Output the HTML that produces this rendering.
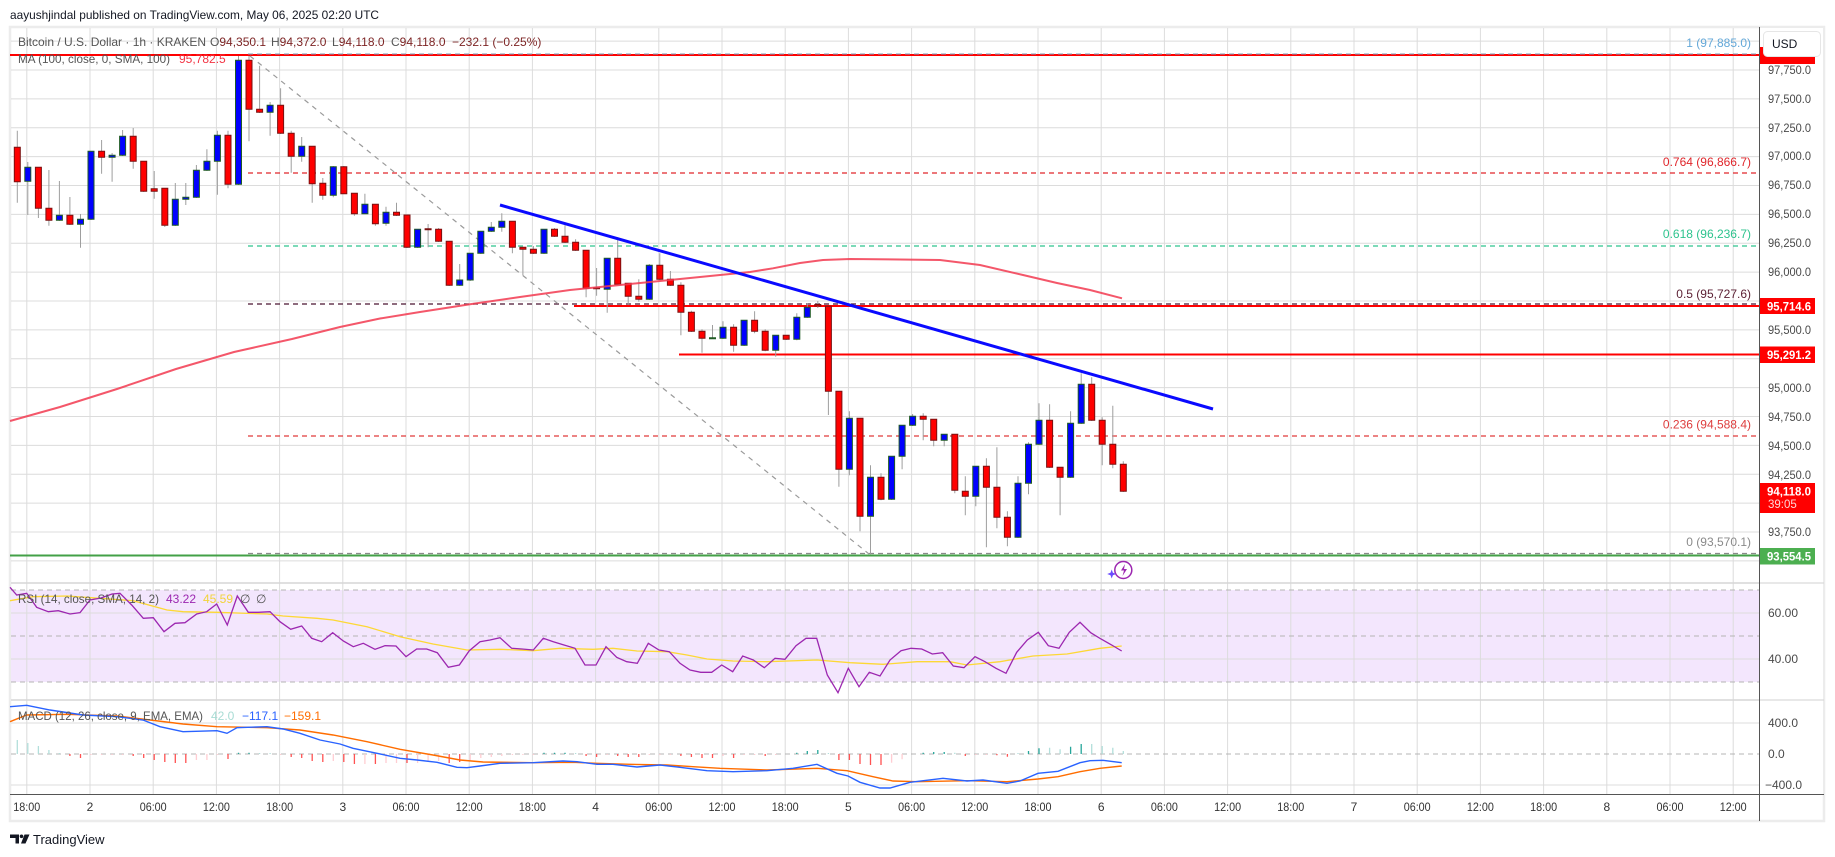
<!DOCTYPE html>
<html><head><meta charset="utf-8"><style>
html,body{margin:0;padding:0;background:#fff;}
svg{display:block;font-family:"Liberation Sans",sans-serif;}
</style></head><body>
<svg width="1835" height="857" viewBox="0 0 1835 857" xmlns="http://www.w3.org/2000/svg">
<rect width="1835" height="857" fill="#fff"/>
<text x="10" y="19" font-size="12" fill="#131722" textLength="369" lengthAdjust="spacingAndGlyphs">aayushjindal published on TradingView.com, May 06, 2025 02:20 UTC</text>
<rect x="10" y="27" width="1814" height="794" fill="#fff" stroke="#ececec" stroke-width="2.5"/>
<!-- RSI band -->
<rect x="11" y="590" width="1748" height="92" fill="#f3e6fd"/>
<!-- grid -->
<g stroke="#dcdcdc" stroke-width="1">
<path d="M11 41.1H1759M11 70H1759M11 98.9H1759M11 127.7H1759M11 156.6H1759M11 185.5H1759M11 214.4H1759M11 243.3H1759M11 272.1H1759M11 301H1759M11 329.9H1759M11 358.8H1759M11 387.6H1759M11 416.5H1759M11 445.4H1759M11 474.3H1759M11 503.1H1759M11 532H1759M11 560.9H1759"/>
<path d="M11 613H1759M11 659H1759M11 723H1759M11 785H1759"/>
<path d="M26.8 28V794M90 28V794M153.2 28V794M216.4 28V794M279.6 28V794M342.8 28V794M406 28V794M469.2 28V794M532.4 28V794M595.6 28V794M658.8 28V794M722 28V794M785.2 28V794M848.4 28V794M911.6 28V794M974.8 28V794M1038 28V794M1101.2 28V794M1164.4 28V794M1227.6 28V794M1290.8 28V794M1354 28V794M1417.2 28V794M1480.4 28V794M1543.6 28V794M1606.8 28V794M1670 28V794M1733.2 28V794"/>
</g>
<g stroke="#d6d6d6" stroke-width="1.5"><path d="M11 583H1824M11 700H1824"/></g>
<g stroke="#b4b4b4" stroke-width="1" stroke-dasharray="5,4"><path d="M11 590H1759M11 636H1759M11 682H1759M11 754H1759"/></g>

<!-- fib lines -->
<line x1="10" y1="55" x2="1759" y2="55" stroke="#ff0000" stroke-width="2"/>
<line x1="248" y1="54" x2="1759" y2="54" stroke="#7d9dba" stroke-width="1" stroke-dasharray="5,4"/>
<line x1="248" y1="173" x2="1759" y2="173" stroke="#e0262b" stroke-width="1.2" stroke-dasharray="5,4"/>
<line x1="248" y1="246" x2="1759" y2="246" stroke="#2ec38e" stroke-width="1.2" stroke-dasharray="5,4"/>
<line x1="248" y1="304" x2="1759" y2="304" stroke="#4a1530" stroke-width="1.2" stroke-dasharray="5,4"/>
<line x1="248" y1="436" x2="1759" y2="436" stroke="#e03a3a" stroke-width="1.2" stroke-dasharray="5,4"/>
<line x1="248" y1="553.5" x2="1759" y2="553.5" stroke="#8a8a8a" stroke-width="1.2" stroke-dasharray="5,4"/>
<line x1="10" y1="555.5" x2="1759" y2="555.5" stroke="#43a047" stroke-width="2"/>
<line x1="574" y1="306" x2="1759" y2="306" stroke="#ff0000" stroke-width="2"/>
<line x1="679" y1="354.5" x2="1759" y2="354.5" stroke="#ff0000" stroke-width="2"/>
<g font-size="12" text-anchor="end">
<text x="1751" y="47" fill="#64a8d8">1 (97,885.0)</text>
<text x="1751" y="166" fill="#e0262b">0.764 (96,866.7)</text>
<text x="1751" y="238" fill="#2ec38e">0.618 (96,236.7)</text>
<text x="1751" y="298" fill="#5b1f33">0.5 (95,727.6)</text>
<text x="1751" y="428.5" fill="#dd3d3d">0.236 (94,588.4)</text>
<text x="1751" y="546" fill="#8a8a8a">0 (93,570.1)</text>
</g>
<!-- diagonal dashed -->
<line x1="250" y1="56" x2="869" y2="554" stroke="#9a9a9a" stroke-width="1.2" stroke-dasharray="5,5"/>

<!-- wicks -->
<path fill="none" stroke="#9e9e9e" stroke-width="1" d="M17.3 130.7V202.7M27.8 162V215M38.4 167V218M48.9 170V225.7M59.4 181V221M69.9 197V225M80.5 214V247.7M91 151V220M101.6 140V173.7M112.1 153V181.7M122.6 130V156M133.2 128V168.7M143.7 161V192M154.2 171V198.7M164.8 188V227M175.3 183V226M185.8 183V205M196.4 165V198M206.9 149.3V171M217.4 130.7V194.7M228 130.7V188.3M238.5 56V185M249 56V141.3M259.6 65.7V113M270.1 102V135.7M280.6 88.3V134M291.2 130.7V172.7M301.7 137V161.7M312.2 146V202.7M322.8 178V199.7M333.3 166V197.3M343.8 166V194M354.4 193V215.7M364.9 193.7V214M375.4 204V225.7M386 206.7V225.7M396.5 202.7V216M407 215V248M417.6 229V248M428.1 224V247.3M438.6 228V242M449.2 241V286M459.7 264V286M470.2 253V281M480.8 231V254M491.3 222V232M501.8 213.3V231.7M512.4 221V253.3M522.9 247V275M533.4 246V254M544 229V254M554.5 228V237M565 225.3V243M575.6 239.3V251M586.1 250V297.3M596.6 268V295.7M607.2 258V312.7M617.7 237.3V285M628.2 283V304.3M638.8 279.3V301.7M649.3 264V300M659.8 253.3V280M670.4 271V286M680.9 282.3V335.3M691.4 310.7V332M702 329.3V352.7M712.5 325V338.3M723 321.3V339M733.6 324.3V351.7M744.1 320V346M754.6 311.3V333.3M765.2 329.3V351.3M775.7 335V356.7M786.2 335V340M796.8 313.3V340.3M807.3 303.3V318M817.8 301V308M828.4 306V415M838.9 391V486.7M849.4 411.3V475.3M860 418V531.3M870.5 465.3V554.3M881 473.3V500.3M891.6 456V500M902.1 425V469.3M912.6 414V426M923.2 413.3V440.3M933.7 419V446.3M944.2 434V446.3M954.8 434V493.3M965.3 476.3V515.3M975.8 466V506.3M986.4 458.3V547.3M996.9 447.3V528.3M1007.4 511.3V546.3M1018 476.3V538M1028.5 442.3V494.3M1039 403.3V445M1049.6 404.3V468M1060.1 467V515.3M1070.6 411.3V478M1081.2 373.3V424M1091.7 377.3V421M1102.2 417.3V465.3M1112.8 405.7V468.3M1123.3 461.3V492"/>
<!-- up bodies -->
<path fill="#0000ff" stroke="#1f5a24" stroke-width="1" d="M24.8 167.3h6v14h-6zM56.4 215.3h6v5h-6zM77.5 219.3h6v5h-6zM88 151.3h6v68h-6zM109.1 155.3h6v2h-6zM119.6 136.3h6v19h-6zM172.3 199.3h6v26h-6zM182.8 197.3h6v2h-6zM193.4 170.3h6v27h-6zM203.9 161.3h6v9h-6zM214.4 135.3h6v26h-6zM235.5 60.3h6v124h-6zM267.1 105.3h6v7h-6zM298.7 146.3h6v10h-6zM330.3 166.7h6v28.6h-6zM361.9 204.3h6v9.4h-6zM383 212.3h6v11h-6zM414.6 229.3h6v18h-6zM456.7 280h6v5.3h-6zM467.2 253.3h6v26.7h-6zM477.8 231.3h6v22h-6zM488.3 227.3h6v4h-6zM498.8 221.3h6v6h-6zM541 229.3h6v24h-6zM604.2 258.3h6v31h-6zM646.3 265.3h6v34h-6zM709.5 337.8h6v1h-6zM720 327.3h6v11h-6zM741.1 320.3h6v25h-6zM772.7 335.3h6v15h-6zM793.8 317.3h6v22h-6zM804.3 307.3h6v10h-6zM846.4 418.3h6v51h-6zM867.5 477.3h6v39h-6zM888.6 456.3h6v43h-6zM899.1 425.3h6v31h-6zM909.6 416.3h6v9h-6zM941.2 434.3h6v6h-6zM972.8 466.3h6v30h-6zM1015 483.3h6v54h-6zM1025.5 444.3h6v39h-6zM1036 420.3h6v24h-6zM1067.6 423.3h6v54h-6zM1078.2 384.3h6v39h-6z"/>
<!-- down bodies -->
<path fill="#ff0000" stroke="#7a1010" stroke-width="1" d="M14.3 147.3h6v34.4h-6zM35.4 167.3h6v41h-6zM45.9 208.3h6v12h-6zM66.9 215.3h6v9h-6zM98.6 151.3h6v6h-6zM130.2 136.3h6v25h-6zM140.7 161.3h6v30h-6zM151.2 188.7h6v2.6h-6zM161.8 188.3h6v37h-6zM225 135.3h6v49h-6zM246 60.3h6v49h-6zM256.6 109.3h6v3h-6zM277.6 105.3h6v28h-6zM288.2 133.3h6v23h-6zM309.2 146.3h6v37.4h-6zM319.8 183.3h6v12h-6zM340.8 166.7h6v27h-6zM351.4 193.3h6v20.4h-6zM372.4 204.3h6v19.4h-6zM393.5 212.3h6v3h-6zM404 215h6v32.3h-6zM425.1 228.8h6v1h-6zM435.6 229.3h6v12h-6zM446.2 241.3h6v44h-6zM509.4 221.3h6v26h-6zM519.9 247.3h6v2h-6zM530.4 249.3h6v4h-6zM551.5 229.3h6v7h-6zM562 236.3h6v6h-6zM572.6 242.3h6v8h-6zM583.1 250.3h6v38h-6zM593.6 287.8h6v1h-6zM614.7 258.3h6v26h-6zM625.2 283.3h6v13h-6zM635.8 296.3h6v3h-6zM656.8 265.3h6v14h-6zM667.4 279.3h6v6h-6zM677.9 285.3h6v27h-6zM688.4 312.3h6v19h-6zM699 331.3h6v7h-6zM730.6 327.3h6v18h-6zM751.6 320.3h6v11h-6zM762.2 331.3h6v19h-6zM783.2 335.3h6v4h-6zM814.8 304.5h6v1.5h-6zM825.4 306.3h6v85h-6zM835.9 391.3h6v78h-6zM857 418.3h6v98h-6zM878 477.3h6v22h-6zM920.2 416.3h6v3h-6zM930.7 419.3h6v21h-6zM951.8 434.3h6v56h-6zM962.3 491.3h6v5h-6zM983.4 466.3h6v21h-6zM993.9 487.3h6v30h-6zM1004.4 517.3h6v20h-6zM1046.6 420.3h6v47h-6zM1057.1 467.3h6v10h-6zM1088.7 384.3h6v36h-6zM1099.2 420.3h6v24h-6zM1109.8 444.3h6v20h-6zM1120.3 464.3h6v27h-6z"/>

<!-- MA -->
<polyline fill="none" stroke="#f23a50" stroke-opacity="0.85" stroke-width="2" points="10,421 60,407 117,389 176,369 234,352 292,339 340,327 380,318.5 420,312 470,304.3 520,297 570,290 620,285 670,280 710,276 750,272 773,268.3 800,263 823,260 850,259 900,259.5 940,260 980,265 1023,275 1057,283 1090,290 1122,298.3"/>
<!-- trendline -->
<line x1="500" y1="205" x2="1213" y2="409" stroke="#0a0aff" stroke-width="3"/>

<!-- event icon -->
<circle cx="1123.3" cy="570" r="8.5" fill="#fff" stroke="#9c27b0" stroke-width="1.5"/>
<path d="M1125 564l-4 6.5h3l-1.5 5.5 4.5-7h-3z" fill="#9c27b0"/>
<path d="M1111.7 569.5l1.2 3.3 3.3 1.2-3.3 1.2-1.2 3.3-1.2-3.3-3.3-1.2 3.3-1.2z" fill="#6a4cff"/>

<!-- legends -->
<g font-size="12">
<text x="18" y="46" fill="#555">Bitcoin / U.S. Dollar · 1h · KRAKEN</text>
<text x="210" y="46" fill="#555">O<tspan fill="#7d2525">94,350.1</tspan></text>
<text x="271" y="46" fill="#555">H<tspan fill="#7d2525">94,372.0</tspan></text>
<text x="332" y="46" fill="#555">L<tspan fill="#7d2525">94,118.0</tspan></text>
<text x="391" y="46" fill="#555">C<tspan fill="#7d2525">94,118.0</tspan></text>
<text x="452" y="46" fill="#7d2525">−232.1 (−0.25%)</text>
<text x="18" y="63" fill="#555" textLength="152" lengthAdjust="spacingAndGlyphs">MA (100, close, 0, SMA, 100)</text>
<text x="179" y="63" fill="#f23645">95,782.5</text>
</g>

<!-- RSI -->
<polyline fill="none" stroke="#fdd835" stroke-width="1.3" points="10,600.7 33,596.7 67,596 100,598.3 133,600.7 167,610 183,611.7 217,612.3 267,614 283,616 317,618.3 333,620 367,626.7 400,636.7 433,644 467,650 500,649.3 533,650.7 560,648.3 593,649.3 613,648.3 637,651 667,651.7 687,655 707,659 733,661 767,661.7 817,660 850,662.7 883,664.3 917,661.7 950,661.7 967,665 1000,661.7 1033,656 1067,654 1100,648.3 1121.7,646"/>
<polyline fill="none" stroke="#9c27b0" stroke-width="1.3" points="10,587.3 16.7,595 26.7,593.3 36.7,607.3 48.3,611.7 58.3,610.7 70,614 80,612.7 90,600 101,598 112,594 120,593.3 131.7,605 143.3,618.3 153.3,617.7 164,631.7 175,623.3 185,622.7 196.7,614 206.7,611.7 216.7,604 227.3,625 237.3,596 248.3,612.3 258.3,612.3 270,611.7 280,621.7 290.7,629.3 301.7,626 311.7,638.3 321.7,641.7 332.7,632.7 343.3,641 353.3,646.7 363.3,643.3 375,649.3 385,645.7 396,646 406,656.7 416.7,649 426.7,649 437.3,652.7 448.3,667.3 459.3,665 469.3,650.7 480,641.7 490,640 500,637.7 511.7,648.3 522,649 533.3,650 543.3,638.3 553.3,641.7 564,645 575,648.3 585,665 596,665 606,646.7 616.7,657.3 626.7,661.7 637.3,663.3 648.3,643.3 659,650 669.3,651.7 680,663.3 690,670 700.7,672.3 711.7,672.3 721.7,665 732.7,671.7 742.7,656 753.3,660 764.3,667.7 775,658.3 785,659.3 796,645.7 806,638.3 816.7,638.3 827.3,675 838,692.7 848.3,668.3 859,686.7 869.3,672.3 880,676 890,660 901,650.7 911,648.3 921.7,649 932.3,654 942.7,652.7 953.3,666 964,667.7 975,656.7 985,661.7 996,668.3 1006,673.3 1016.7,652.3 1027.3,640 1038.3,632.3 1048.3,645.7 1059,648.3 1069.3,632.3 1080,622.3 1090.7,632.7 1101,639 1111.7,645 1121.7,651"/>
<g font-size="12">
<text x="18" y="603" fill="#555" textLength="141" lengthAdjust="spacingAndGlyphs">RSI (14, close, SMA, 14, 2)</text>
<text x="166" y="603" fill="#9c27b0">43.22</text>
<text x="203" y="603" fill="#f2d43a">45.59</text>
<text x="240" y="603" fill="#555">∅</text>
<text x="256" y="603" fill="#555">∅</text>
</g>

<!-- MACD histogram -->
<path fill="none" stroke="#b2dfdb" stroke-width="1.3" d="M17.3 754V740M27.8 754V743M38.4 754V746M48.9 754V750M59.4 754V753M259.6 754V753M270.1 754V753M575.6 754V753M828.4 754V753M954.8 754V752.7M1018 754V753M1049.6 754V747.7M1060.1 754V749.3M1091.7 754V744M1102.2 754V746M1112.8 754V747.7M1123.3 754V751"/>
<path fill="none" stroke="#26a69a" stroke-width="1.3" d="M238.5 754V752.7M249 754V752.7M544 754V752.7M554.5 754V752.7M565 754V752.7M796.8 754V752.7M807.3 754V751M817.8 754V750M923.2 754V752.7M933.7 754V752M944.2 754V752M1028.5 754V751M1039 754V748.3M1070.6 754V746.7M1081.2 754V744"/>
<path fill="none" stroke="#ff5252" stroke-width="1.3" d="M69.9 754V756M80.5 754V758M133.2 754V756M143.7 754V758M154.2 754V760M164.8 754V762M175.3 754V763M185.8 754V763M228 754V759M291.2 754V757M301.7 754V758M312.2 754V761M322.8 754V762M343.8 754V762M354.4 754V764M375.4 754V764M407 754V763M449.2 754V763M459.7 754V762M586.1 754V756M596.6 754V757M617.7 754V756M628.2 754V757M638.8 754V757M680.9 754V756M691.4 754V757M702 754V758M712.5 754V758M733.6 754V758M765.2 754V756M838.9 754V760M849.4 754V760M860 754V764M870.5 754V765M881 754V765M965.3 754V756M996.9 754V755.3M1007.4 754V756.7"/>
<path fill="none" stroke="#ffcdd2" stroke-width="1.3" d="M91 754V755M101.6 754V755M112.1 754V755M122.6 754V755M196.4 754V760M206.9 754V760M217.4 754V755M280.6 754V755M333.3 754V761M364.9 754V764M386 754V763M396.5 754V763M417.6 754V763M428.1 754V762M438.6 754V761M470.2 754V760M480.8 754V758M491.3 754V757M501.8 754V756M512.4 754V755M522.9 754V755M533.4 754V755M607.2 754V755M649.3 754V755M659.8 754V755M670.4 754V755M723 754V756M744.1 754V755M754.6 754V755M775.7 754V755M891.6 754V762.7M902.1 754V759.3M975.8 754V755M986.4 754V755"/>
<polyline fill="none" stroke="#ff6d00" stroke-width="1.4" points="10,721.7 26.7,715 67,714.3 117,716 150,720 183,724 217,726.7 267,727.7 300,730 333,735 367,741.7 400,749.3 433,755 460,760 483,762 533,762.7 573,762.3 597,763.3 630,764.3 667,765 693,766.7 720,768.3 767,770 817,768.3 847,770.7 873,776.7 893,781 917,781.7 967,780.7 1007,781.7 1038,779 1058,776.7 1080,771.7 1100,768.3 1121.7,766"/>
<polyline fill="none" stroke="#2962ff" stroke-width="1.4" points="10,706.7 26.7,705.3 50,710 83,715 117,716.7 143,720 160,726.7 183,731.7 217,730.7 227,733.3 237,727.7 267,726.7 283,729 300,733.3 320,740 340,744 353,748.3 377,753.3 400,758.3 417,760 437,762.3 457,767.3 467,767.7 480,766 500,763.3 533,762.7 563,761 577,761.7 597,764.3 613,764.3 637,767 660,765 680,767.3 707,770.7 733,771.7 767,770.7 793,768.3 817,764.3 837,773.3 848,776 860,782.3 880,788 890,788 910,782.3 943,778.3 967,781 983,780 1007,783.3 1020,781 1038,773.3 1058,771.3 1080,762.7 1090,760.7 1103,760.3 1121.7,762.7"/>
<g font-size="12">
<text x="18" y="720" fill="#555" textLength="185" lengthAdjust="spacingAndGlyphs">MACD (12, 26, close, 9, EMA, EMA)</text>
<text x="211" y="720" fill="#a8dcd4">42.0</text>
<text x="242" y="720" fill="#2962ff">−117.1</text>
<text x="284" y="720" fill="#ff6d00">−159.1</text>
</g>

<!-- axes -->
<rect x="1760" y="28" width="63" height="766" fill="#fff"/>
<line x1="1759.5" y1="27" x2="1759.5" y2="821" stroke="#555" stroke-width="1"/>
<line x1="10" y1="794.5" x2="1824" y2="794.5" stroke="#555" stroke-width="1"/>
<line x1="1760" y1="583" x2="1824" y2="583" stroke="#e0e0e0" stroke-width="1.5"/>
<line x1="1760" y1="700" x2="1824" y2="700" stroke="#e0e0e0" stroke-width="1.5"/>
<g font-size="12" fill="#4a4a4a">
<text x="1768" y="74" textLength="43" lengthAdjust="spacingAndGlyphs">97,750.0</text>
<text x="1768" y="103" textLength="43" lengthAdjust="spacingAndGlyphs">97,500.0</text>
<text x="1768" y="132" textLength="43" lengthAdjust="spacingAndGlyphs">97,250.0</text>
<text x="1768" y="160" textLength="43" lengthAdjust="spacingAndGlyphs">97,000.0</text>
<text x="1768" y="189" textLength="43" lengthAdjust="spacingAndGlyphs">96,750.0</text>
<text x="1768" y="218" textLength="43" lengthAdjust="spacingAndGlyphs">96,500.0</text>
<text x="1768" y="247" textLength="43" lengthAdjust="spacingAndGlyphs">96,250.0</text>
<text x="1768" y="276" textLength="43" lengthAdjust="spacingAndGlyphs">96,000.0</text>
<text x="1768" y="334" textLength="43" lengthAdjust="spacingAndGlyphs">95,500.0</text>
<text x="1768" y="392" textLength="43" lengthAdjust="spacingAndGlyphs">95,000.0</text>
<text x="1768" y="421" textLength="43" lengthAdjust="spacingAndGlyphs">94,750.0</text>
<text x="1768" y="450" textLength="43" lengthAdjust="spacingAndGlyphs">94,500.0</text>
<text x="1768" y="479" textLength="43" lengthAdjust="spacingAndGlyphs">94,250.0</text>
<text x="1768" y="536" textLength="43" lengthAdjust="spacingAndGlyphs">93,750.0</text>
<text x="1768" y="617">60.00</text>
<text x="1768" y="663">40.00</text>
<text x="1768" y="727">400.0</text>
<text x="1768" y="758">0.0</text>
<text x="1765" y="789">−400.0</text>
</g>
<!-- price tags -->
<rect x="1760" y="47" width="55" height="17" fill="#ff0000"/>
<rect x="1760" y="298" width="55" height="16" fill="#ff0000"/>
<rect x="1760" y="346.5" width="55" height="16.5" fill="#ff0000"/>
<rect x="1760" y="483" width="55" height="30" fill="#ff0000"/>
<rect x="1760" y="548" width="55" height="16.5" fill="#4caf50"/>
<g font-size="12" fill="#fff" font-weight="bold">
<text x="1767" y="310.5" textLength="44" lengthAdjust="spacingAndGlyphs">95,714.6</text>
<text x="1767" y="359" textLength="44" lengthAdjust="spacingAndGlyphs">95,291.2</text>
<text x="1767" y="495.5" textLength="44" lengthAdjust="spacingAndGlyphs">94,118.0</text>
<text x="1767" y="560.5" textLength="44" lengthAdjust="spacingAndGlyphs">93,554.5</text>
</g>
<text x="1768" y="508" font-size="11.5" fill="#ffd6d6">39:05</text>
<rect x="1763.5" y="31.5" width="57" height="25" rx="4" fill="#fff" stroke="#e6e6e6"/>
<text x="1772" y="48" font-size="12" fill="#131722">USD</text>

<!-- time axis -->
<g font-size="12" fill="#333" text-anchor="middle">
<text x="26.8" y="811" textLength="27" lengthAdjust="spacingAndGlyphs">18:00</text>
<text x="90" y="811">2</text>
<text x="153.2" y="811" textLength="27" lengthAdjust="spacingAndGlyphs">06:00</text>
<text x="216.4" y="811" textLength="27" lengthAdjust="spacingAndGlyphs">12:00</text>
<text x="279.6" y="811" textLength="27" lengthAdjust="spacingAndGlyphs">18:00</text>
<text x="342.8" y="811">3</text>
<text x="406" y="811" textLength="27" lengthAdjust="spacingAndGlyphs">06:00</text>
<text x="469.2" y="811" textLength="27" lengthAdjust="spacingAndGlyphs">12:00</text>
<text x="532.4" y="811" textLength="27" lengthAdjust="spacingAndGlyphs">18:00</text>
<text x="595.6" y="811">4</text>
<text x="658.8" y="811" textLength="27" lengthAdjust="spacingAndGlyphs">06:00</text>
<text x="722" y="811" textLength="27" lengthAdjust="spacingAndGlyphs">12:00</text>
<text x="785.2" y="811" textLength="27" lengthAdjust="spacingAndGlyphs">18:00</text>
<text x="848.4" y="811">5</text>
<text x="911.6" y="811" textLength="27" lengthAdjust="spacingAndGlyphs">06:00</text>
<text x="974.8" y="811" textLength="27" lengthAdjust="spacingAndGlyphs">12:00</text>
<text x="1038" y="811" textLength="27" lengthAdjust="spacingAndGlyphs">18:00</text>
<text x="1101.2" y="811">6</text>
<text x="1164.4" y="811" textLength="27" lengthAdjust="spacingAndGlyphs">06:00</text>
<text x="1227.6" y="811" textLength="27" lengthAdjust="spacingAndGlyphs">12:00</text>
<text x="1290.8" y="811" textLength="27" lengthAdjust="spacingAndGlyphs">18:00</text>
<text x="1354" y="811">7</text>
<text x="1417.2" y="811" textLength="27" lengthAdjust="spacingAndGlyphs">06:00</text>
<text x="1480.4" y="811" textLength="27" lengthAdjust="spacingAndGlyphs">12:00</text>
<text x="1543.6" y="811" textLength="27" lengthAdjust="spacingAndGlyphs">18:00</text>
<text x="1606.8" y="811">8</text>
<text x="1670" y="811" textLength="27" lengthAdjust="spacingAndGlyphs">06:00</text>
<text x="1733.2" y="811" textLength="27" lengthAdjust="spacingAndGlyphs">12:00</text>
</g>

<!-- TradingView logo -->
<path d="M10 834.5h9v9h-3.5v-5.5h-5.5z" fill="#131722"/>
<circle cx="21.5" cy="836.3" r="1.8" fill="#131722"/>
<path d="M24.5 834.5h5l-4 9h-4.5z" fill="#131722"/>
<text x="33" y="844" font-size="13" fill="#131722">TradingView</text>
</svg>
</body></html>
